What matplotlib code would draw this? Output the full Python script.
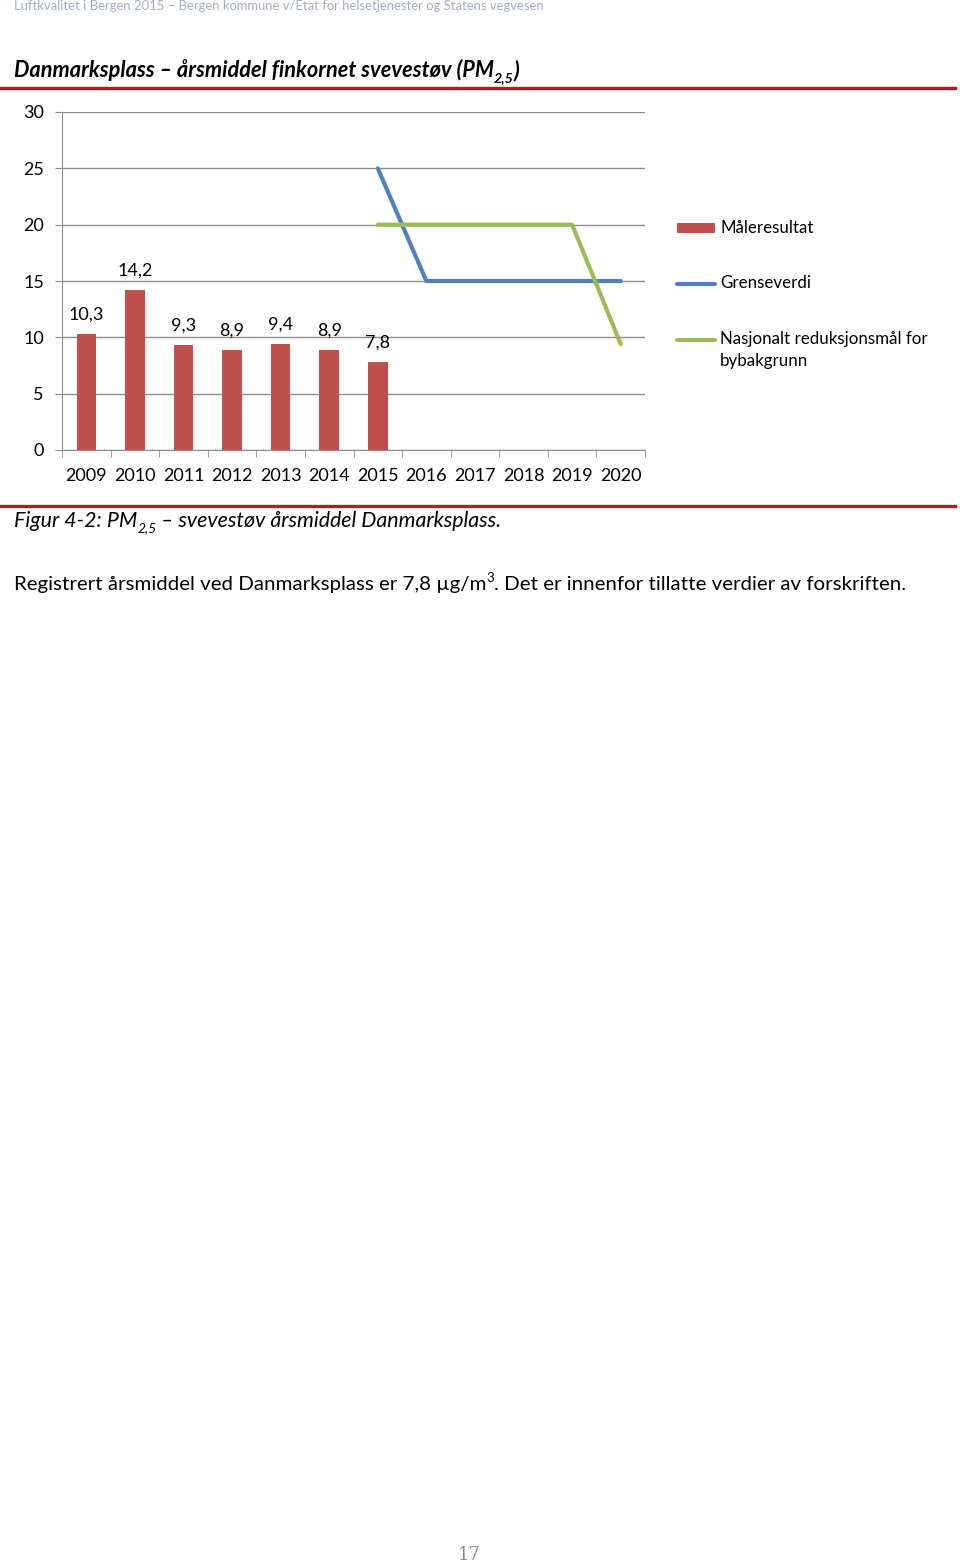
import matplotlib
matplotlib.use("Agg")
import matplotlib.pyplot as plt
import numpy as np
from matplotlib.patches import Rectangle
from matplotlib.lines import Line2D

years = ["2009", "2010", "2011", "2012", "2013", "2014", "2015",
         "2016", "2017", "2018", "2019", "2020"]
maaleresultat = [10.3, 14.2, 9.3, 8.9, 9.4, 8.9, 7.8]
maale_labels = ["10,3", "14,2", "9,3", "8,9", "9,4", "8,9", "7,8"]
grense_years = ["2015", "2016", "2017", "2018", "2019", "2020"]
grenseverdi = [25, 15, 15, 15, 15, 15]
maal_years = ["2015", "2016", "2017", "2018", "2019", "2020"]
reduksjonsmaal = [20, 20, 20, 20, 20, 9.4]
yticks = [0, 5, 10, 15, 20, 25, 30]
legend_labels = ["Måleresultat", "Grenseverdi", "Nasjonalt reduksjonsmål for\nbybakgrunn"]

FONT = ["Lato", "DejaVu Sans"]
plt.rcParams["font.family"] = FONT

W, H = 960, 1566
fig = plt.figure(figsize=(W / 100, H / 100), dpi=100)
renderer = fig.canvas.get_renderer()

def fx(px):
    return px / W

def fy(py):
    return 1 - py / H

def rich(x_px, y_px, pieces, **kw):
    """pieces: list of (text, kind) kind in '', 'sub', 'sup'"""
    size = kw.pop("fontsize")
    x = x_px
    for txt, kind in pieces:
        dy = 0
        s = size
        if kind == "sub":
            s = size * 0.65
            dy = size * 1.389 * 0.22
        elif kind == "sup":
            s = size * 0.65
            dy = -size * 1.389 * 0.38
        t = fig.text(fx(x), fy(y_px + dy), txt, fontsize=s, va="baseline", ha="left", **kw)
        bb = t.get_window_extent(renderer)
        x += bb.width
    return x

# page header
fig.text(fx(14), fy(6), "Luftkvalitet i Bergen 2015 – Bergen kommune v/Etat for helsetjenester og Statens vegvesen",
         fontsize=9.35, color="#9fafc6", va="center", ha="left")

# title
rich(14, 77, [("Danmarksplass – årsmiddel finkornet svevestøv (PM", ""), ("2,5", "sub"), (")", "")],
     fontsize=15.65, fontweight="bold", fontstyle="italic", color="black")
fig.add_artist(Line2D([0, fx(955)], [fy(88), fy(88)], color="#b51a21", lw=2.4))
fig.add_artist(Line2D([0, fx(955)], [fy(506), fy(506)], color="#b51a21", lw=2.4))

# axes
ax = fig.add_axes([fx(62), fy(450), fx(645) - fx(62), fy(112) - fy(450)])
x = np.arange(len(years))
xpos = {y: i for i, y in enumerate(years)}

ax.bar(x[:len(maaleresultat)], maaleresultat, width=0.4, color="#c0504d", zorder=3)
for xi, v, lab in zip(x, maaleresultat, maale_labels):
    ax.annotate(lab, (xi, v), xytext=(0, 8), textcoords="offset points",
                ha="center", va="bottom", fontsize=13)

ax.plot([xpos[y] for y in grense_years], grenseverdi, color="#4f81bd", lw=3,
        solid_capstyle="round", solid_joinstyle="round", zorder=4)
ax.plot([xpos[y] for y in maal_years], reduksjonsmaal, color="#9bbb59", lw=3,
        solid_capstyle="round", solid_joinstyle="round", zorder=4)

ax.set_xlim(-0.5, len(years) - 0.5)
ax.set_ylim(0, 30)
ax.set_yticks(yticks)
ax.set_yticklabels([str(t) for t in yticks], fontsize=13)
ax.yaxis.grid(True, color="#8c8c8c", lw=1)
ax.set_axisbelow(True)
ax.set_xticks(x)
ax.set_xticklabels(years, fontsize=13)
ax.set_xticks(np.arange(-0.5, len(years)), minor=True)
ax.tick_params(axis="x", which="major", length=0, pad=13)
ax.tick_params(axis="x", which="minor", length=5, color="#8c8c8c", direction="out")
ax.tick_params(axis="y", length=5, color="#8c8c8c", pad=8)
for s in ["top", "right"]:
    ax.spines[s].set_visible(False)
ax.spines["left"].set_color("#8c8c8c")
ax.spines["bottom"].set_color("#8c8c8c")

# legend (drawn manually to match spacing)
fig.add_artist(Rectangle((fx(677), fy(233)), fx(715) - fx(677), fy(223) - fy(233),
                         facecolor="#c0504d", edgecolor="none"))
fig.add_artist(Line2D([fx(677), fx(715)], [fy(284), fy(284)], color="#4f81bd", lw=3,
                      solid_capstyle="round"))
fig.add_artist(Line2D([fx(677), fx(715)], [fy(340), fy(340)], color="#9bbb59", lw=3,
                      solid_capstyle="round"))
fig.text(fx(720), fy(228), legend_labels[0], fontsize=12.2, va="center", ha="left")
fig.text(fx(720), fy(283), legend_labels[1], fontsize=12.2, va="center", ha="left")
fig.text(fx(720), fy(331), legend_labels[2], fontsize=12.2, va="top", ha="left", linespacing=1.45)

# caption
rich(14, 527, [("Figur 4-2: PM", ""), ("2,5", "sub"), (" – svevestøv årsmiddel Danmarksplass.", "")],
     fontsize=15.4, fontstyle="italic", color="black")
rich(14, 590, [("Registrert årsmiddel ved Danmarksplass er 7,8 µg/m", ""), ("3", "sup"),
               (". Det er innenfor tillatte verdier av forskriften.", "")],
     fontsize=14.75, color="black")

fig.text(fx(469), fy(1555), "17", fontsize=13, family=["DejaVu Serif"], color="#8a8a8a",
         ha="center", va="center")

fig.savefig("out.png", dpi=100)
